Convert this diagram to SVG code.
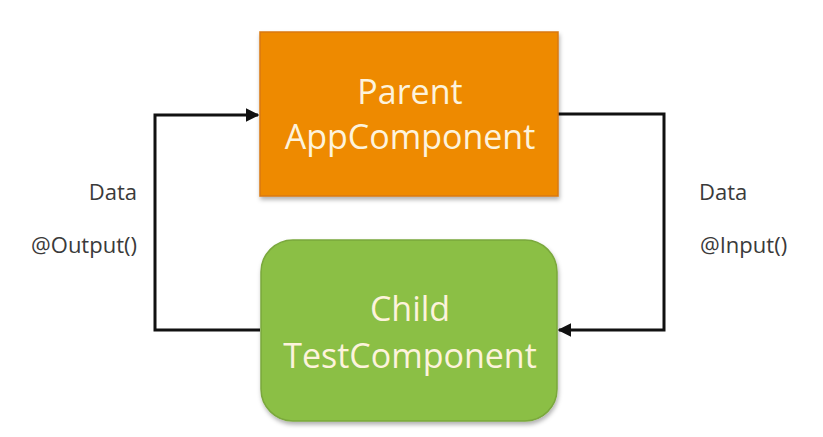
<svg xmlns="http://www.w3.org/2000/svg" width="823" height="437" viewBox="0 0 823 437">
<defs>
<style>
.node-text{font-family:"Open Sans","Noto Sans",sans-serif;font-size:34px;fill:#fdf3dc;text-anchor:middle}
.label{font-family:"Open Sans","Noto Sans",sans-serif;font-size:22px;fill:#3a3a3a}
.conn{fill:none;stroke:#111;stroke-width:3}
</style>
<marker id="arrow" viewBox="0 0 10 10" refX="9" refY="5" markerWidth="4.5" markerHeight="4.5" orient="auto" markerUnits="strokeWidth">
<path d="M0,0 L10,5 L0,10 z" fill="#111"/>
</marker>
<filter id="shadow" x="-10%" y="-10%" width="120%" height="125%">
<feDropShadow dx="1" dy="3" stdDeviation="2" flood-color="#000" flood-opacity="0.3"/>
</filter>
</defs>
<rect width="823" height="437" fill="#ffffff"/>
<g id="connectors">
<path class="conn" d="M260,330 L155,330 L155,115 L258,115" marker-end="url(#arrow)"/>
<path class="conn" d="M558,114 L664,114 L664,330 L559,330" marker-end="url(#arrow)"/>
</g>
<g id="parent">
<rect x="260" y="32" width="298" height="164" fill="#ee8a06" stroke="#d9780a" stroke-width="1.5" filter="url(#shadow)"/>
<text class="node-text" x="410" y="104">Parent</text>
<text class="node-text" x="410" y="149">AppComponent</text>
</g>
<g id="child">
<rect x="261" y="240" width="296" height="181" rx="32" ry="32" fill="#8bbf45" stroke="#7aa83c" stroke-width="1.5" filter="url(#shadow)"/>
<text class="node-text" x="410" y="321">Child</text>
<text class="node-text" x="410" y="368">TestComponent</text>
</g>
<g id="labels">
<text class="label" x="137" y="200" text-anchor="end">Data</text>
<text class="label" x="137" y="253" text-anchor="end">@Output()</text>
<text class="label" x="699" y="200">Data</text>
<text class="label" x="700" y="253">@Input()</text>
</g>
</svg>
